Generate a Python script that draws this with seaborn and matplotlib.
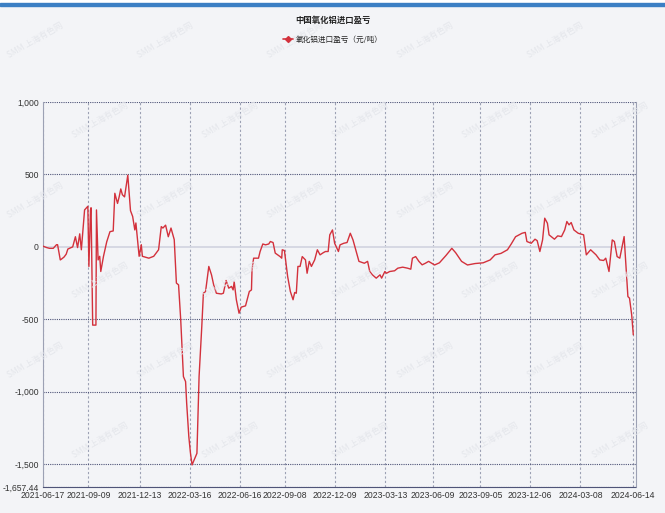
import matplotlib
matplotlib.use("Agg")
import matplotlib.pyplot as plt
from matplotlib.lines import Line2D
from matplotlib.patches import Rectangle
import seaborn as sns
import pandas as pd

# 氧化铝进口盈亏 (元/吨)
dates = [
    # 2021
    "2021-06-17", "2021-06-24", "2021-06-29", "2021-07-06", "2021-07-12", "2021-07-14",
    "2021-07-19", "2021-07-21", "2021-07-26", "2021-07-30", "2021-08-02", "2021-08-11",
    "2021-08-16", "2021-08-20", "2021-08-24", "2021-08-27", "2021-09-02", "2021-09-08",
    "2021-09-10", "2021-09-13", "2021-09-14", "2021-09-17", "2021-09-23", "2021-09-24",
    "2021-09-27", "2021-09-30", "2021-10-02", "2021-10-07", "2021-10-13", "2021-10-19",
    "2021-10-25", "2021-10-28", "2021-11-02", "2021-11-05", "2021-11-08", "2021-11-11",
    "2021-11-15", "2021-11-21", "2021-11-26", "2021-11-30", "2021-12-04", "2021-12-06",
    "2021-12-12",
    "2021-12-16", "2021-12-18", "2021-12-30",
    # 2022
    "2022-01-08", "2022-01-17", "2022-01-22", "2022-01-25", "2022-01-30", "2022-02-04",
    "2022-02-09", "2022-02-15", "2022-02-19", "2022-02-23", "2022-02-27", "2022-03-04",
    "2022-03-08", "2022-03-10", "2022-03-14",
    "2022-03-17", "2022-03-20", "2022-03-24", "2022-03-29", "2022-04-02", "2022-04-07",
    "2022-04-10", "2022-04-14", "2022-04-20", "2022-04-25", "2022-04-29", "2022-05-04",
    "2022-05-13", "2022-05-17", "2022-05-22", "2022-05-27", "2022-06-01", "2022-06-04",
    "2022-06-06", "2022-06-10", "2022-06-15",
    "2022-06-19", "2022-06-27", "2022-07-04", "2022-07-08", "2022-07-09", "2022-07-12",
    "2022-07-21", "2022-07-24", "2022-07-29", "2022-08-03", "2022-08-09", "2022-08-12",
    "2022-08-17", "2022-08-21", "2022-08-30", "2022-09-02", "2022-09-03", "2022-09-07",
    "2022-09-13", "2022-09-18", "2022-09-23", "2022-09-26", "2022-09-29", "2022-10-02",
    "2022-10-06", "2022-10-10", "2022-10-16", "2022-10-19", "2022-10-23", "2022-10-27",
    "2022-11-02", "2022-11-07", "2022-11-12", "2022-11-18", "2022-11-22", "2022-11-27",
    "2022-11-30", "2022-12-05",
    "2022-12-09", "2022-12-16", "2022-12-19", "2022-12-26",
    # 2023
    "2023-01-01", "2023-01-07", "2023-01-12", "2023-01-17", "2023-01-23", "2023-02-02",
    "2023-02-08", "2023-02-12", "2023-02-17", "2023-02-24", "2023-03-03", "2023-03-06",
    "2023-03-12",
    "2023-03-15", "2023-03-21", "2023-03-30", "2023-04-05", "2023-04-14", "2023-04-23",
    "2023-04-29", "2023-05-02", "2023-05-08", "2023-05-14", "2023-05-20", "2023-05-26",
    "2023-06-01",
    "2023-06-12", "2023-06-21", "2023-07-03", "2023-07-14", "2023-07-21", "2023-08-01",
    "2023-08-12", "2023-08-26",
    "2023-09-10", "2023-09-23", "2023-10-02", "2023-10-13", "2023-10-25", "2023-11-01",
    "2023-11-09", "2023-11-21", "2023-11-27", "2023-11-30",
    "2023-12-08", "2023-12-15", "2023-12-19", "2023-12-24", "2023-12-29",
    # 2024
    "2024-01-02", "2024-01-07", "2024-01-10", "2024-01-20", "2024-01-26", "2024-02-02",
    "2024-02-08", "2024-02-12", "2024-02-16", "2024-02-20", "2024-02-25", "2024-03-04",
    "2024-03-14", "2024-03-19", "2024-03-27", "2024-04-06", "2024-04-13", "2024-04-20",
    "2024-04-24", "2024-04-30", "2024-05-06", "2024-05-10", "2024-05-15", "2024-05-20",
    "2024-05-28", "2024-06-04", "2024-06-07", "2024-06-11", "2024-06-14",
]

values = [
    5, -5, -10, -10, 15, 15,
    -90, -85, -70, -50, -15, 0,
    70, -5, 90, -20, 255, 280,
    -135, 255, 270, -540, -540, 255,
    -90, -65, -170, -65, 35, 105,
    110, 370, 300, 345, 400, 360,
    345, 495, 250, 210, 117, 165,
    -65,
    15, -65, -78,
    -65, -20, 140, 130, 150, 70,
    130, 50, -250, -262, -503, -895,
    -930, -1078, -1310,
    -1422, -1505, -1470, -1425, -895, -550,
    -320, -308, -135, -193, -262, -320,
    -325, -320, -232, -285, -273, -297,
    -240, -365, -458,
    -416, -407, -308, -297, -159, -78,
    -78, -32, 20, 14, 20, 37,
    30, -43, -67, -78, -20, -25,
    -205, -308, -365, -315, -320, -135,
    -135, -67, -90, -182, -100, -135,
    -90, -20, -55, -40, -32, -32,
    83, 117,
    25, -32, 14, 25,
    30, 94, 48, -20, -100, -113,
    -100, -170, -193, -216, -193, -216,
    -170,
    -182, -170, -165, -147, -140, -147,
    -154, -78, -67, -100, -124, -113,
    -100,
    -125, -110, -60, -10, -40, -100,
    -125, -115,
    -110, -90, -55, -45, -20, 20,
    70, 94, 100, 37,
    25, 53, 43, -32, 48,
    198, 163, 83, 53, 76, 71,
    117, 175, 152, 168, 117, 94,
    83, -55, -20, -55, -90, -94,
    -78, -170, 48, 37, -67, -78,
    71, -343, -354, -469, -607,
]

x_ticks = [
    "2021-06-17", "2021-09-09", "2021-12-13", "2022-03-16", "2022-06-16",
    "2022-09-08", "2022-12-09", "2023-03-13", "2023-06-09", "2023-09-05",
    "2023-12-06", "2024-03-08", "2024-06-14",
]
y_ticks = [1000, 500, 0, -500, -1000, -1500, -1657.44]
y_tick_labels = ["1,000", "500", "0", "-500", "-1,000", "-1,500", "-1,657.44"]

title = "中国氧化铝进口盈亏"
series_name = "氧化铝进口盈亏（元/吨）"

LINE = "#d3313c"
BG = "#f3f4f7"
GRID_H = "#4f5478"
GRID_V = "#9ca1b4"
CJK = ["Noto Sans CJK SC", "DejaVu Sans"]

sns.set_style("white")
plt.rcParams["font.family"] = ["Liberation Sans", "Noto Sans CJK SC", "DejaVu Sans"]

df = pd.DataFrame({"date": pd.to_datetime(dates), "value": values})

fig = plt.figure(figsize=(6.65, 5.13), dpi=100, facecolor=BG)
W, H = 665, 513
ax = fig.add_axes([43 / W, 1 - 487 / H, (636 - 43) / W, (487 - 102) / H])
ax.set_facecolor(BG)

# top blue band
fig.patches.append(Rectangle((0, 1 - 3 / H), 1, 3 / H, transform=fig.transFigure,
                             color="white", zorder=0))
fig.patches.append(Rectangle((0, 1 - 6 / H), 1, 3 / H, transform=fig.transFigure,
                             color="#3b7fc4", zorder=0))

# faint watermarks
for row, wy in enumerate([40, 120, 200, 280, 360, 440]):
    off = 0 if row % 2 == 0 else 65
    for wx in [35, 165, 295, 425, 555]:
        fig.text((wx + off) / W, 1 - wy / H, "SMM 上海有色网", rotation=30,
                 fontsize=6, color="#e4e6eb", ha="center", va="center",
                 family=CJK, zorder=0)

tick_dates = pd.to_datetime(x_ticks)
for d in tick_dates:
    ax.axvline(d, color=GRID_V, lw=0.8, ls=(0, (2, 2)), zorder=1)
for v in y_ticks:
    if v == 0:
        ax.axhline(v, color="#d3d6e1", lw=1.3, zorder=1)
    else:
        ax.axhline(v, color=GRID_H, lw=0.8, ls=(0, (1, 1)), zorder=1)

sns.lineplot(data=df, x="date", y="value", ax=ax, color=LINE, lw=1.0,
             zorder=3, estimator=None, sort=False)

ax.set_xlim(pd.Timestamp("2021-06-17"), pd.Timestamp("2024-06-19"))
ax.set_ylim(-1657.44, 1000)
ax.set_xticks(tick_dates)
ax.set_xticklabels(x_ticks)
ax.set_yticks(y_ticks)
ax.set_yticklabels(y_tick_labels)
ax.tick_params(axis="both", length=0, labelsize=6.2, colors="#333333")
ax.tick_params(axis="x", pad=3)
ax.tick_params(axis="y", pad=3)
ax.set_xlabel("")
ax.set_ylabel("")

ax.spines["top"].set_visible(False)
for side in ["left", "right", "bottom"]:
    ax.spines[side].set_linestyle((0, (1, 1)))
    ax.spines[side].set_linewidth(0.8)
ax.spines["left"].set_color(GRID_V)
ax.spines["right"].set_color(GRID_V)
ax.spines["bottom"].set_color(GRID_H)

fig.text(0.5, 1 - 20 / H, title, ha="center", va="center", fontsize=6,
         weight="bold", color="#222222", family=CJK)
handle = Line2D([], [], color=LINE, lw=1.2, marker="D", markersize=3)
fig.legend([handle], [series_name], loc="center", bbox_to_anchor=(0.5, 1 - 40 / H),
           frameon=False, handlelength=1.3, handletextpad=0.4,
           prop={"family": CJK, "size": 5.5})

fig.savefig("out.png", dpi=100, facecolor=BG)
